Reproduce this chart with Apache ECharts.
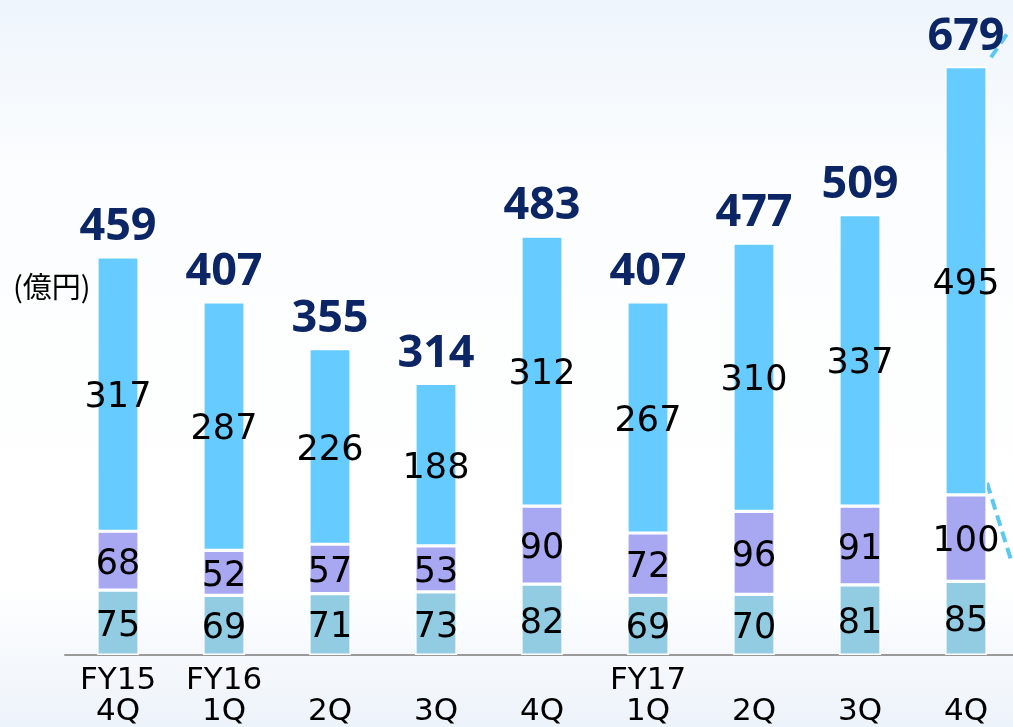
<!DOCTYPE html>
<html><head><meta charset="utf-8">
<script src="https://cdn.jsdelivr.net/npm/echarts@6/dist/echarts.min.js"></script>
<style>html,body{margin:0;padding:0;overflow:hidden;}#c{width:1030px;height:727px;}</style>
</head><body><div id="c"></div>
<script>
const categories = ['FY15\n4Q','FY16\n1Q','\n2Q','\n3Q','\n4Q','FY17\n1Q','\n2Q','\n3Q','\n4Q'];
const seriesBottom = [75,69,71,73,82,69,70,81,85];
const seriesMiddle = [68,52,57,53,90,72,96,91,100];
const seriesTop = [317,287,226,188,312,267,310,337,495];
const totals = [459,407,355,314,483,407,477,509,679];
const unitLabel = '(億円)';

const chart = echarts.init(document.getElementById('c'));
const numFont = 'DejaVu Sans';
function seg(name, data, color){
  return {
    name, type:'bar', stack:'s', data, barWidth:42,
    itemStyle:{color, borderColor:'#ffffff', borderWidth:1.6},
    label:{show:true, position:'inside', offset:[0,4], color:'#000', fontFamily:numFont, fontSize:35},
    emphasis:{disabled:true}
  };
}
chart.setOption({
  animation:false,
  backgroundColor:{type:'linear',x:0,y:0,x2:0,y2:1,colorStops:[
    {offset:0,color:'#EEF5FC'},{offset:0.25,color:'#FCFDFE'},{offset:0.8,color:'#FFFFFF'},{offset:1,color:'#EDF3FA'}]},
  title:{text:unitLabel, left:8, top:267, textStyle:{fontFamily:'Noto Sans CJK JP', fontSize:29, fontWeight:'normal', color:'#000'}},
  grid:{left:65, width:954, top:6, bottom:70},
  xAxis:{type:'category', data:categories,
    axisLine:{lineStyle:{color:'#999', width:2}}, axisTick:{show:false},
    axisLabel:{color:'#000', fontFamily:numFont, fontSize:31, lineHeight:31, margin:10, interval:0}},
  yAxis:{type:'value', min:0, max:750, show:false, splitLine:{show:false}},
  series:[
    seg('a', seriesBottom, '#92CCE3'),
    seg('b', seriesMiddle, '#A8A8F2'),
    seg('c', seriesTop, '#66CCFF'),
    {name:'t', type:'bar', stack:'s', data:totals.map(()=>0), barWidth:42,
     label:{show:true, position:'top', distance:7, color:'#0B2565', fontWeight:'bold', fontFamily:'Noto Sans', fontSize:45,
       formatter:p=>String(totals[p.dataIndex])}}
  ]
});
// decorative dashed callout lines attached to the last bar
const last = categories.length-1;
const topPt = chart.convertToPixel({gridIndex:0},[last, totals[last]]);
const midPt = chart.convertToPixel({gridIndex:0},[last, seriesBottom[last]+seriesMiddle[last]]);
chart.setOption({graphic:[
  {type:'line', shape:{x1:topPt[0]+25,y1:topPt[1]-10,x2:topPt[0]+44,y2:topPt[1]-38}, style:{stroke:'#5CC8F0',lineWidth:4,lineDash:[11,6]}},
  {type:'line', shape:{x1:midPt[0]+21,y1:midPt[1]-12,x2:midPt[0]+45,y2:midPt[1]+65}, style:{stroke:'#5CC8F0',lineWidth:4,lineDash:[11,6]}}
]});
</script></body></html>
